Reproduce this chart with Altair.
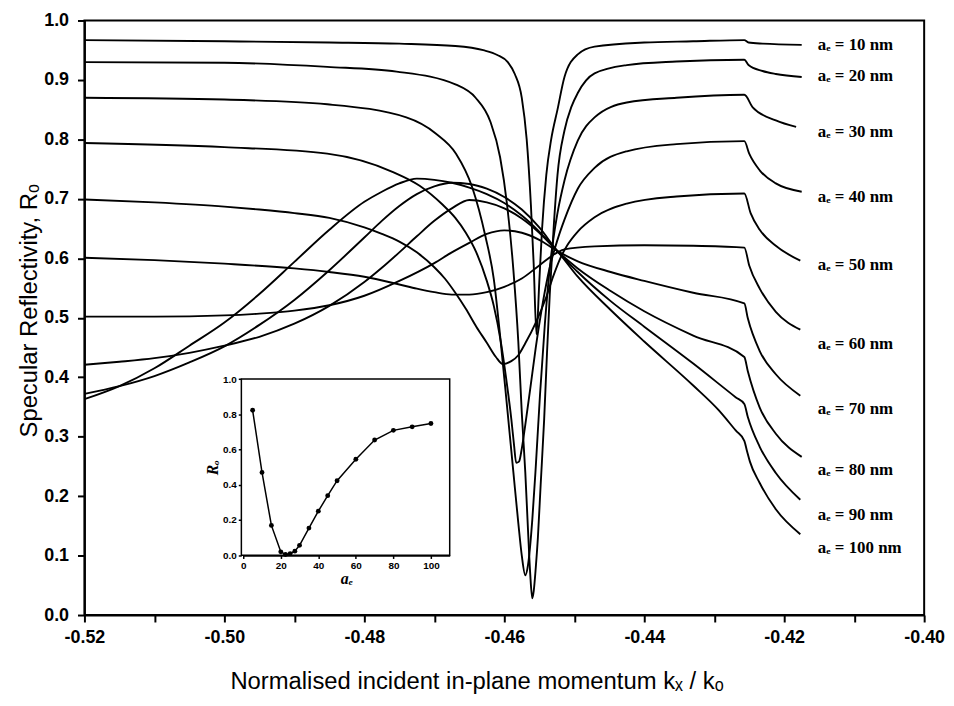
import altair as alt
import pandas as pd

# ---- main curves: (k_x/k_o, R_o) pairs ----
a10 = [(-0.520, 0.967), (-0.500, 0.965), (-0.485, 0.963), (-0.475, 0.961), (-0.467, 0.957),
       (-0.463, 0.950), (-0.461, 0.942), (-0.4595, 0.930), (-0.4585, 0.910), (-0.4575, 0.870),
       (-0.4568, 0.800), (-0.4562, 0.690), (-0.4558, 0.590), (-0.4554, 0.472), (-0.4550, 0.560),
       (-0.4546, 0.650), (-0.4540, 0.740), (-0.4533, 0.800), (-0.4524, 0.850), (-0.4514, 0.905),
       (-0.4495, 0.943), (-0.4471, 0.956), (-0.4400, 0.963), (-0.4330, 0.965), (-0.4257, 0.967),
       (-0.4251, 0.963), (-0.4231, 0.961), (-0.4175, 0.959)]
a20 = [(-0.520, 0.930), (-0.500, 0.929), (-0.4853, 0.922), (-0.4754, 0.914), (-0.4669, 0.892),
       (-0.4641, 0.870), (-0.4620, 0.830), (-0.4606, 0.770), (-0.4596, 0.690), (-0.4587, 0.580),
       (-0.4580, 0.460), (-0.4575, 0.340), (-0.4570, 0.240), (-0.4566, 0.140), (-0.4563, 0.070),
       (-0.4560, 0.028), (-0.4558, 0.040), (-0.4555, 0.080), (-0.4552, 0.130), (-0.4548, 0.220),
       (-0.4543, 0.330), (-0.4539, 0.440), (-0.4535, 0.540), (-0.4529, 0.660), (-0.4524, 0.740),
       (-0.4514, 0.815), (-0.4504, 0.855), (-0.4495, 0.878), (-0.4471, 0.911), (-0.4425, 0.925),
       (-0.4354, 0.931), (-0.4257, 0.934), (-0.4251, 0.925), (-0.4231, 0.915), (-0.4212, 0.910),
       (-0.4175, 0.905)]
a30 = [(-0.520, 0.870), (-0.500, 0.867), (-0.4853, 0.859), (-0.4740, 0.837), (-0.4698, 0.810),
       (-0.4669, 0.776), (-0.4646, 0.720), (-0.4627, 0.637), (-0.4615, 0.565), (-0.4606, 0.470),
       (-0.4596, 0.350), (-0.4587, 0.240), (-0.4580, 0.155), (-0.4575, 0.100), (-0.4570, 0.067),
       (-0.4566, 0.085), (-0.4560, 0.160), (-0.4555, 0.250), (-0.4549, 0.370), (-0.4542, 0.490),
       (-0.4534, 0.595), (-0.4524, 0.676), (-0.4514, 0.731), (-0.4495, 0.798), (-0.4471, 0.837),
       (-0.4425, 0.862), (-0.4354, 0.870), (-0.4257, 0.875), (-0.4245, 0.854), (-0.4212, 0.832),
       (-0.4183, 0.821)]
a40 = [(-0.520, 0.794), (-0.500, 0.787), (-0.4853, 0.776), (-0.4759, 0.745), (-0.4721, 0.722),
       (-0.4688, 0.690), (-0.4670, 0.668), (-0.4655, 0.643), (-0.4640, 0.610), (-0.4625, 0.562),
       (-0.4615, 0.520), (-0.4605, 0.460), (-0.4597, 0.395), (-0.4590, 0.330), (-0.4586, 0.285),
       (-0.4583, 0.256), (-0.4579, 0.258), (-0.4575, 0.280), (-0.4570, 0.320), (-0.4563, 0.380),
       (-0.4555, 0.450), (-0.4545, 0.525), (-0.4535, 0.585), (-0.4524, 0.631), (-0.4514, 0.665),
       (-0.4495, 0.717), (-0.4471, 0.752), (-0.4425, 0.780), (-0.4354, 0.792), (-0.4257, 0.797),
       (-0.4250, 0.776), (-0.4235, 0.748), (-0.4212, 0.726), (-0.4175, 0.712)]
a50 = [(-0.520, 0.699), (-0.510, 0.694), (-0.500, 0.687), (-0.495, 0.682), (-0.490, 0.676),
       (-0.485, 0.668), (-0.480, 0.652), (-0.4775, 0.641), (-0.475, 0.628), (-0.4725, 0.610),
       (-0.470, 0.585), (-0.4685, 0.566), (-0.467, 0.542), (-0.4655, 0.515), (-0.464, 0.485),
       (-0.4625, 0.458), (-0.4612, 0.434), (-0.4602, 0.422), (-0.4590, 0.427), (-0.4580, 0.437),
       (-0.4570, 0.457), (-0.4555, 0.492), (-0.4540, 0.535), (-0.4530, 0.570), (-0.4520, 0.600),
       (-0.4510, 0.622), (-0.4495, 0.645), (-0.4471, 0.669), (-0.4425, 0.692), (-0.4354, 0.704),
       (-0.4257, 0.709), (-0.4248, 0.676), (-0.4235, 0.648), (-0.4212, 0.621), (-0.4177, 0.596)]
a60 = [(-0.520, 0.601), (-0.510, 0.597), (-0.500, 0.591), (-0.490, 0.583), (-0.485, 0.577),
       (-0.480, 0.569), (-0.475, 0.556), (-0.4725, 0.549), (-0.470, 0.543), (-0.4675, 0.539),
       (-0.465, 0.539), (-0.4625, 0.543), (-0.460, 0.552), (-0.4575, 0.566), (-0.455, 0.588),
       (-0.4524, 0.610), (-0.4514, 0.615), (-0.4471, 0.620), (-0.4400, 0.622), (-0.4330, 0.621),
       (-0.4257, 0.618), (-0.4250, 0.588), (-0.4235, 0.549), (-0.4212, 0.510), (-0.4177, 0.480)]
a70 = [(-0.520, 0.502), (-0.510, 0.502), (-0.500, 0.504), (-0.495, 0.507), (-0.490, 0.512),
       (-0.485, 0.521), (-0.480, 0.537), (-0.475, 0.562), (-0.470, 0.592), (-0.4675, 0.610),
       (-0.465, 0.626), (-0.4625, 0.641), (-0.460, 0.647), (-0.4575, 0.643), (-0.455, 0.631),
       (-0.4524, 0.612), (-0.4495, 0.595), (-0.4448, 0.577), (-0.4400, 0.562), (-0.4330, 0.542),
       (-0.4257, 0.524), (-0.4252, 0.499), (-0.4235, 0.444), (-0.4212, 0.405), (-0.4177, 0.369)]
a80 = [(-0.520, 0.421), (-0.515, 0.426), (-0.510, 0.432), (-0.505, 0.441), (-0.500, 0.453),
       (-0.495, 0.468), (-0.490, 0.490), (-0.485, 0.520), (-0.480, 0.560), (-0.4775, 0.584),
       (-0.475, 0.610), (-0.4725, 0.637), (-0.470, 0.663), (-0.4675, 0.684), (-0.465, 0.698),
       (-0.4625, 0.694), (-0.460, 0.684), (-0.4575, 0.667), (-0.455, 0.643), (-0.4524, 0.612),
       (-0.4495, 0.583), (-0.4448, 0.545), (-0.4400, 0.511), (-0.4330, 0.470), (-0.4257, 0.434),
       (-0.4252, 0.410), (-0.4235, 0.349), (-0.4212, 0.305), (-0.4175, 0.266)]
a90 = [(-0.520, 0.372), (-0.515, 0.385), (-0.510, 0.402), (-0.505, 0.425), (-0.500, 0.452),
       (-0.495, 0.488), (-0.490, 0.530), (-0.485, 0.580), (-0.480, 0.635), (-0.4775, 0.663),
       (-0.475, 0.688), (-0.4725, 0.708), (-0.470, 0.721), (-0.4675, 0.727), (-0.465, 0.725),
       (-0.4625, 0.717), (-0.460, 0.703), (-0.4575, 0.682), (-0.455, 0.652), (-0.4524, 0.612),
       (-0.4495, 0.577), (-0.4448, 0.528), (-0.4400, 0.485), (-0.4330, 0.423), (-0.4269, 0.366),
       (-0.4257, 0.355), (-0.4252, 0.333), (-0.4235, 0.283), (-0.4212, 0.239), (-0.4177, 0.194)]
a100 = [(-0.520, 0.363), (-0.515, 0.385), (-0.510, 0.415), (-0.505, 0.453), (-0.500, 0.492),
        (-0.495, 0.540), (-0.490, 0.594), (-0.485, 0.648), (-0.480, 0.695), (-0.4775, 0.712),
        (-0.475, 0.726), (-0.4725, 0.734), (-0.470, 0.732), (-0.4675, 0.727), (-0.465, 0.719),
        (-0.4625, 0.708), (-0.460, 0.693), (-0.4575, 0.672), (-0.455, 0.645), (-0.4524, 0.612),
        (-0.4495, 0.569), (-0.4448, 0.513), (-0.4400, 0.460), (-0.4330, 0.386), (-0.4294, 0.345),
        (-0.4269, 0.310), (-0.4257, 0.293), (-0.4253, 0.275), (-0.4249, 0.258), (-0.4235, 0.222),
        (-0.4212, 0.178), (-0.4177, 0.136)]

curves = {10: a10, 20: a20, 30: a30, 40: a40, 50: a50,
          60: a60, 70: a70, 80: a80, 90: a90, 100: a100}

# ---- curve labels ----
label_a = [10, 20, 30, 40, 50, 60, 70, 80, 90, 100]
label_r = [0.958, 0.906, 0.813, 0.703, 0.588, 0.456, 0.347, 0.244, 0.169, 0.112]
label_x = -0.4152

# ---- inset: R_o vs a_e ----
inset_a = [5, 10, 15, 20, 22.5, 25, 27.5, 30, 35, 40, 45, 50, 60, 70, 80, 90, 100]
inset_r = [0.823, 0.470, 0.169, 0.019, 0.004, 0.009, 0.023, 0.056, 0.154, 0.250,
           0.338, 0.423, 0.545, 0.654, 0.709, 0.729, 0.748]

rows = []
for a, pts in curves.items():
    for i, (x, r) in enumerate(pts):
        rows.append({"a": a, "x": x, "r": r, "order": i})
df = pd.DataFrame(rows)

lab_df = pd.DataFrame({"text": [f"aₑ = {a} nm" for a in label_a],
                       "x": [label_x] * len(label_a), "r": label_r})

inset_df = pd.DataFrame({"a": inset_a, "r": inset_r})
frame_df = pd.DataFrame({"a": [-1], "a2": [110], "r": [0.0], "r2": [1.0]})

FONT = "Liberation Sans"

x_vals = [round(-0.52 + i * 0.01, 2) for i in range(13)]
y_vals = [round(i * 0.05, 2) for i in range(21)]

x_scale = alt.Scale(domain=[-0.52, -0.40], nice=False, zero=False)
y_scale = alt.Scale(domain=[0, 1], nice=False, zero=False)

x_axis = alt.Axis(
    values=x_vals,
    labelExpr="abs(round(datum.value*100)) % 2 == 0 ? (datum.value < 0 ? '-' : '') + format(abs(datum.value), '.2f') : ''",
    tickSize=7, tickWidth=2, tickColor="black", domainWidth=2, domainColor="black",
    labelFont=FONT, labelFontSize=18, labelFontWeight="bold", labelColor="black",
    labelPadding=7, labelFlush=False, labelOverlap=False, grid=False,
    title="Normalised incident in-plane momentum kₓ / kₒ",
    titleFont=FONT, titleFontSize=24, titleFontWeight="normal", titleColor="black",
    titleX=395, titleY=67, titleAlign="center", titleBaseline="middle",
)
y_axis = alt.Axis(
    values=y_vals,
    labelExpr="abs(round(datum.value*100)) % 10 == 0 ? format(datum.value, '.1f') : ''",
    tickSize=7, tickWidth=2, tickColor="black", domainWidth=2, domainColor="black",
    labelFont=FONT, labelFontSize=18, labelFontWeight="bold", labelColor="black",
    labelPadding=9, labelOverlap=False, grid=False,
    title="Specular Reflectivity, Rₒ",
    titleFont=FONT, titleFontSize=24, titleFontWeight="normal", titleColor="black",
    titleX=-55, titleY=292, titleAngle=270, titleAlign="center", titleBaseline="middle",
)

lines = alt.Chart(df).mark_line(color="black", strokeWidth=1.9, interpolate="monotone").encode(
    x=alt.X("x:Q", scale=x_scale, axis=x_axis),
    y=alt.Y("r:Q", scale=y_scale, axis=y_axis),
    detail="a:N",
    order="order:Q",
)

labels = alt.Chart(lab_df).mark_text(
    align="left", baseline="middle", font="Liberation Serif", fontSize=17,
    fontWeight="bold", color="black"
).encode(
    x=alt.X("x:Q", scale=x_scale),
    y=alt.Y("r:Q", scale=y_scale),
    text="text:N",
)

main = alt.layer(lines, labels)

ix_scale = alt.Scale(domain=[0, 110], range=[160, 368], nice=False, zero=False)
iy_scale = alt.Scale(domain=[0, 1], range=[538.7, 361.3], nice=False, zero=False)

ix_axis = alt.Axis(
    orient="bottom", offset=-60, values=[0, 20, 40, 60, 80, 100], format="d",
    tickSize=3, tickWidth=1.5, tickColor="black", domainWidth=1.5, domainColor="black",
    labelFont=FONT, labelFontSize=10, labelFontWeight="bold", labelColor="black",
    labelPadding=2, labelFlush=False, grid=False,
    title="aₑ", titleFont="Liberation Serif", titleFontSize=16, titleFontStyle="italic",
    titleFontWeight="bold", titleColor="black", titlePadding=0,
)
iy_axis = alt.Axis(
    orient="left", offset=-158, values=[0, 0.2, 0.4, 0.6, 0.8, 1.0], format=".1f",
    tickSize=3, tickWidth=1.5, tickColor="black", domainWidth=1.5, domainColor="black",
    labelFont=FONT, labelFontSize=10, labelFontWeight="bold", labelColor="black",
    labelPadding=2, grid=False,
    title="Rₒ", titleFont="Liberation Serif", titleFontSize=16, titleFontStyle="italic",
    titleFontWeight="bold", titleColor="black", titlePadding=2,
)

frame = alt.Chart(frame_df).mark_rect(fill="white", stroke="black", strokeWidth=1.5).encode(
    x=alt.X("a:Q", scale=ix_scale, axis=ix_axis),
    x2="a2:Q",
    y=alt.Y("r:Q", scale=iy_scale, axis=iy_axis),
    y2="r2:Q",
)
inset_line = alt.Chart(inset_df).mark_line(color="black", strokeWidth=1.5).encode(
    x=alt.X("a:Q", scale=ix_scale),
    y=alt.Y("r:Q", scale=iy_scale),
)
inset_pts = alt.Chart(inset_df).mark_circle(color="black", size=24, opacity=1).encode(
    x=alt.X("a:Q", scale=ix_scale),
    y=alt.Y("r:Q", scale=iy_scale),
)

inset = alt.layer(frame, inset_line, inset_pts)

chart = alt.layer(main, inset).resolve_scale(
    x="independent", y="independent"
).properties(
    width=846, height=599,
    autosize=alt.AutoSizeParams(type="none"),
    padding={"left": 77, "top": 10, "right": 22, "bottom": 80},
).configure_view(stroke="black", strokeWidth=2)

chart.save("out.html", embed_options={"renderer": "svg", "actions": False})
